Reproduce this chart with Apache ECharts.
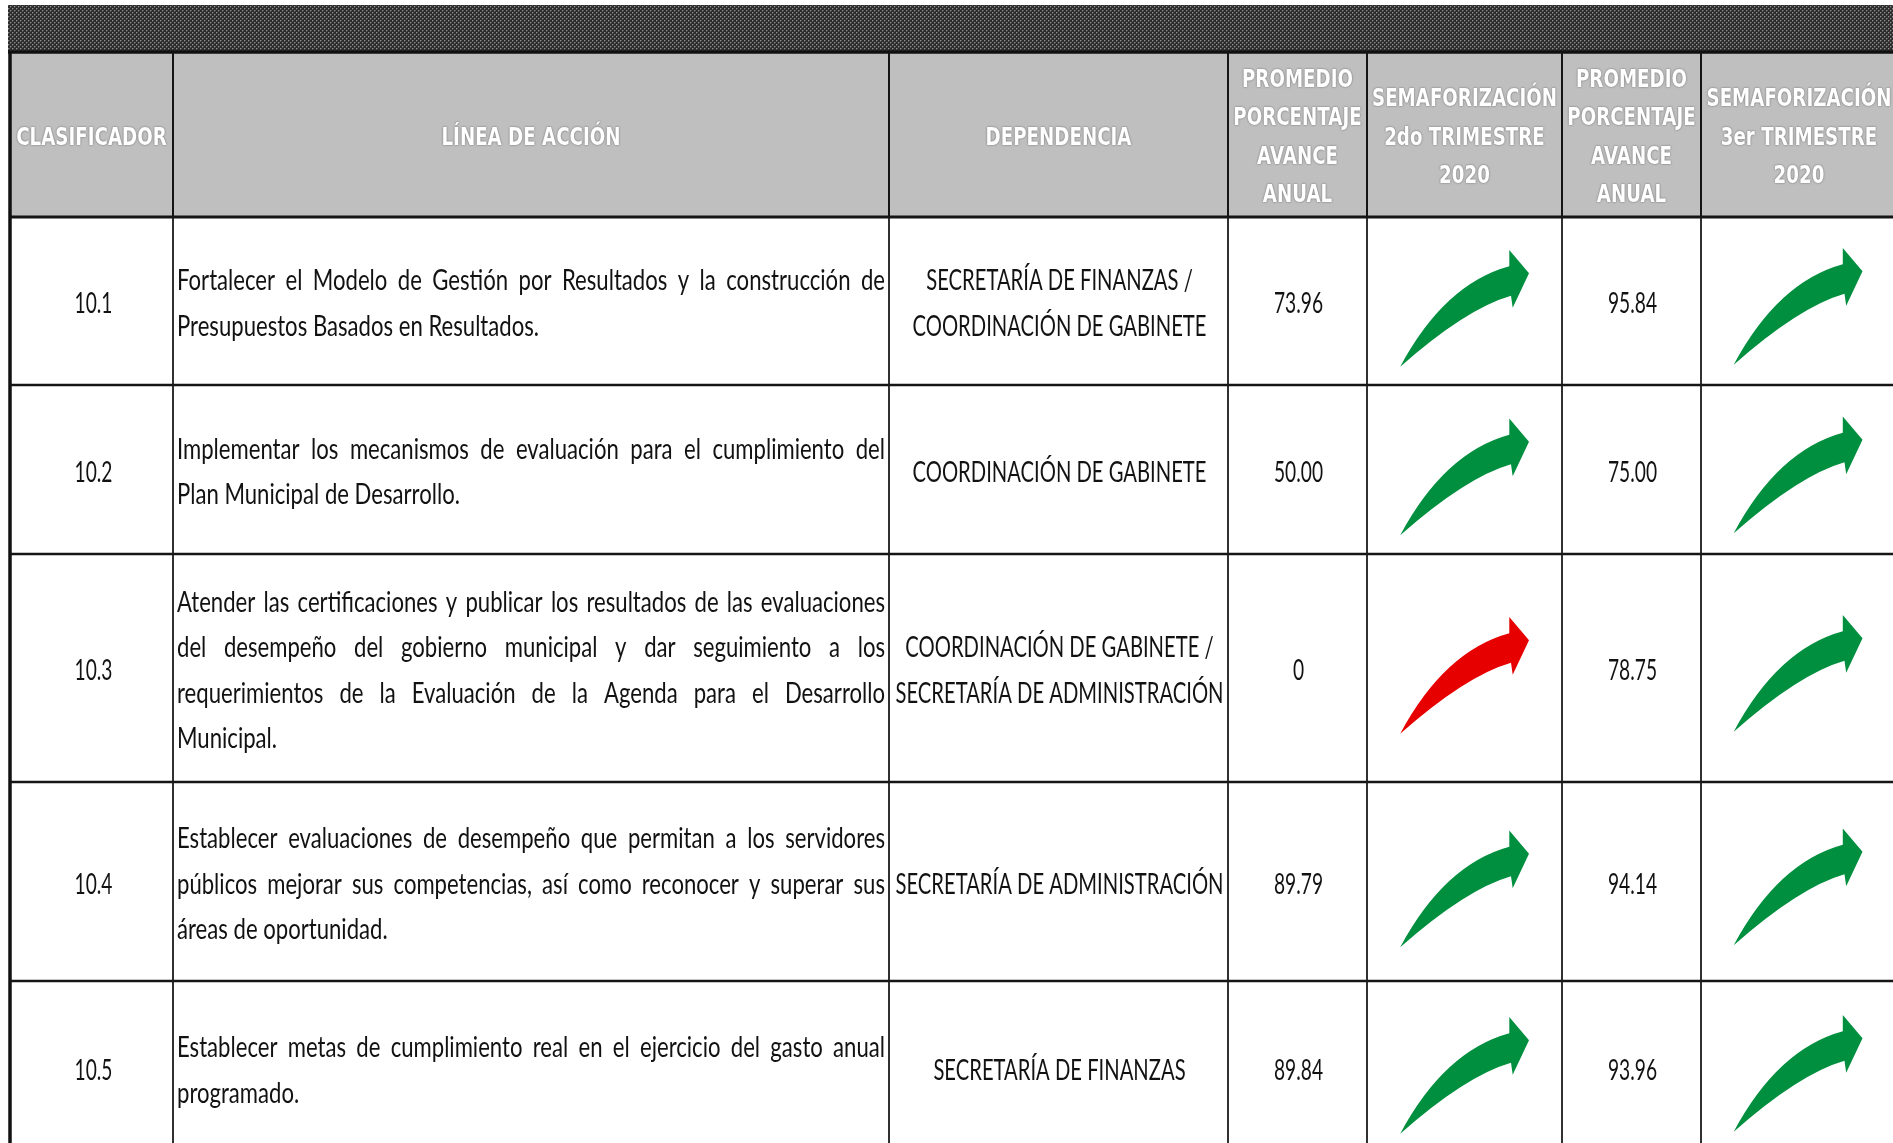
<!DOCTYPE html>
<html><head><meta charset="utf-8">
<script src="https://cdn.jsdelivr.net/npm/echarts@6/dist/echarts.min.js"></script>
<style>html,body{margin:0;padding:0;background:#fff;overflow:hidden}#c{width:1893px;height:1143px}</style>
</head><body><div id="c"></div>
<script>
// ---------- DATA ----------
const encabezados = [
  ['CLASIFICADOR'],
  ['LÍNEA DE ACCIÓN'],
  ['DEPENDENCIA'],
  ['PROMEDIO', 'PORCENTAJE', 'AVANCE', 'ANUAL'],
  ['SEMAFORIZACIÓN', '2do TRIMESTRE', '2020'],
  ['PROMEDIO', 'PORCENTAJE', 'AVANCE', 'ANUAL'],
  ['SEMAFORIZACIÓN', '3er TRIMESTRE', '2020']
];
const clasificador = ['10.1', '10.2', '10.3', '10.4', '10.5'];
const lineaAccion = [
  ['Fortalecer el Modelo de Gestión por Resultados y la construcción de', 'Presupuestos Basados en Resultados.'],
  ['Implementar los mecanismos de evaluación para el cumplimiento del', 'Plan Municipal de Desarrollo.'],
  ['Atender las certificaciones y publicar los resultados de las evaluaciones', 'del desempeño del gobierno municipal y dar seguimiento a los', 'requerimientos de la Evaluación de la Agenda para el Desarrollo', 'Municipal.'],
  ['Establecer evaluaciones de desempeño que permitan a los servidores', 'públicos mejorar sus competencias, así como reconocer y superar sus', 'áreas de oportunidad.'],
  ['Establecer metas de cumplimiento real en el ejercicio del gasto anual', 'programado.']
];
const dependencia = [
  ['SECRETARÍA DE FINANZAS /', 'COORDINACIÓN DE GABINETE'],
  ['COORDINACIÓN DE GABINETE'],
  ['COORDINACIÓN DE GABINETE /', 'SECRETARÍA DE ADMINISTRACIÓN'],
  ['SECRETARÍA DE ADMINISTRACIÓN'],
  ['SECRETARÍA DE FINANZAS']
];
const promedio2doTrim = [73.96, 50.00, 0, 89.79, 89.84];
const semaforo2doTrim = ['verde', 'verde', 'rojo', 'verde', 'verde'];
const promedio3erTrim = [95.84, 75.00, 78.75, 94.14, 93.96];
const semaforo3erTrim = ['verde', 'verde', 'verde', 'verde', 'verde'];

// ---------- LAYOUT / STYLE ----------
const W = 1893, H = 1143;
const colX = [10, 173, 889, 1228, 1367, 1562, 1701, 1897];
const bandTop = 5, headTop = 52, headBottom = 217;
const rowBottoms = [385, 554, 782, 981, 1155];
const lineH = 45.5;
const BODY_FONT = 'Lato';
const HEAD_FONT = 'DejaVu Sans';
const bodySize = 28;
const headSize = 24;
const textColor = '#121212';
const semColors = { verde: '#008f3e', rojo: '#e60000' };
const arrowPath = 'M -64.3 62.7 Q -20 -20 44.8 -37.7 L 44.8 -54 L 64.5 -30.8 L 48.2 3.8 L 46.5 -8.3 Q 1.5 4.6 -64.3 62.7 Z';

function measure(t, size, family, weight) {
  const el = new echarts.graphic.Text({ style: { text: t, fontSize: size, fontFamily: family, fontWeight: weight || 'normal' } });
  return el.getBoundingRect().width;
}
// horizontal compression so the type matches the narrow look of the original
const bodyScale = 362 / measure('Presupuestos Basados en Resultados.', bodySize, BODY_FONT);
const depScale = 328 / measure('SECRETARÍA DE ADMINISTRACIÓN', bodySize, BODY_FONT);
const numScale = 49 / measure('73.96', bodySize, BODY_FONT);
const headScale = 185 / measure('SEMAFORIZACIÓN', headSize, HEAD_FONT, 'bold');

function fmt(v) { return v === 0 ? '0' : v.toFixed(2); }

// hatched band pattern
const pat = document.createElement('canvas');
pat.width = 4; pat.height = 4;
(function () {
  const c = pat.getContext('2d');
  c.fillStyle = '#2c2c2c'; c.fillRect(0, 0, 4, 4);
  c.fillStyle = '#8e8e8e';
  c.fillRect(0, 0, 1, 1); c.fillRect(2, 2, 1, 1);
  c.fillStyle = '#555555';
  c.fillRect(1, 0, 1, 1); c.fillRect(0, 1, 1, 1); c.fillRect(3, 2, 1, 1); c.fillRect(2, 3, 1, 1);
})();

// ---------- HEADER (graphic) ----------
const graphic = [];
graphic.push({ type: 'rect', shape: { x: 8, y: bandTop, width: W, height: headTop - bandTop }, style: { fill: { image: pat, repeat: 'repeat' } }, silent: true });
graphic.push({ type: 'rect', shape: { x: colX[0], y: headTop, width: W, height: headBottom - headTop }, style: { fill: '#bfbfbf' }, silent: true });
encabezados.forEach((lines, c) => {
  const cx = (colX[c] + colX[c + 1]) / 2;
  const cy = (headTop + headBottom) / 2 + 4;
  const lh = 38.5;
  lines.forEach((t, i) => {
    graphic.push({
      type: 'text', x: cx, y: cy + (i - (lines.length - 1) / 2) * lh, scaleX: headScale, silent: true,
      style: { text: t, fontFamily: HEAD_FONT, fontSize: headSize, fontWeight: 'bold', fill: '#ffffff', align: 'center', verticalAlign: 'middle',
        textShadowColor: 'rgba(80,80,80,0.85)', textShadowBlur: 2 }
    });
  });
});
graphic.push({ type: 'line', shape: { x1: 8, y1: headTop, x2: W, y2: headTop }, style: { stroke: '#111', lineWidth: 3.5 }, silent: true });
graphic.push({ type: 'line', shape: { x1: colX[0], y1: headBottom, x2: W, y2: headBottom }, style: { stroke: '#151515', lineWidth: 3 }, silent: true });
for (let c = 1; c < colX.length; c++) {
  graphic.push({ type: 'line', shape: { x1: colX[c], y1: headTop, x2: colX[c], y2: headBottom }, style: { stroke: '#151515', lineWidth: 2 }, silent: true });
}
graphic.push({ type: 'line', shape: { x1: colX[0], y1: headTop, x2: colX[0], y2: H + 20 }, style: { stroke: '#111', lineWidth: 3.5 }, silent: true });

// ---------- ROWS (custom series over value axes) ----------
const rowData = clasificador.map((c, i) => [i, i === 0 ? headBottom : rowBottoms[i - 1], rowBottoms[i]]);

function textEl(t, x, y, align, sc) {
  return { type: 'text', x: x, y: y, scaleX: sc || bodyScale,
    style: { text: t, fontFamily: BODY_FONT, fontSize: bodySize, fill: textColor, align: align, verticalAlign: 'middle' } };
}

function renderRow(params, api) {
  const i = api.value(0);
  const top = api.coord([0, api.value(1)])[1];
  const bot = api.coord([0, api.value(2)])[1];
  const cy = (top + bot) / 2;
  const ty = cy + 3;
  const X = colX.map(x => api.coord([x, 0])[0]);
  const ch = [];
  ch.push({ type: 'line', shape: { x1: X[0], y1: bot, x2: W, y2: bot }, style: { stroke: '#151515', lineWidth: 2.5 } });
  for (let c = 1; c < X.length; c++) {
    ch.push({ type: 'line', shape: { x1: X[c], y1: top, x2: X[c], y2: bot }, style: { stroke: '#1a1a1a', lineWidth: 1.8 } });
  }
  ch.push(textEl(clasificador[i], (X[0] + X[1]) / 2 + 2, ty, 'center', numScale));
  // linea de accion (justified)
  const lines = lineaAccion[i];
  const lx0 = X[1] + 4, lx1 = X[2] - 4;
  lines.forEach((ln, k) => {
    const y = ty + (k - (lines.length - 1) / 2) * lineH;
    if (k === lines.length - 1) {
      ch.push(textEl(ln, lx0, y, 'left'));
    } else {
      const words = ln.split(' ');
      const ws = words.map(w => measure(w, bodySize, BODY_FONT) * bodyScale);
      const tot = ws.reduce((a, b) => a + b, 0);
      const gap = (lx1 - lx0 - tot) / (words.length - 1);
      let x = lx0;
      words.forEach((w, j) => { ch.push(textEl(w, x, y, 'left')); x += ws[j] + gap; });
    }
  });
  const dl = dependencia[i];
  dl.forEach((t, k) => ch.push(textEl(t, (X[2] + X[3]) / 2 + 1, ty + (k - (dl.length - 1) / 2) * lineH, 'center', depScale)));
  ch.push(textEl(fmt(promedio2doTrim[i]), (X[3] + X[4]) / 2 + 1, ty, 'center', numScale));
  ch.push(textEl(fmt(promedio3erTrim[i]), (X[5] + X[6]) / 2 + 1, ty, 'center', numScale));
  ch.push({ type: 'path', x: (X[4] + X[5]) / 2, y: cy + 3, shape: { pathData: arrowPath }, style: { fill: semColors[semaforo2doTrim[i]] } });
  ch.push({ type: 'path', x: (X[6] + X[7]) / 2 - 1, y: cy + 1, shape: { pathData: arrowPath }, style: { fill: semColors[semaforo3erTrim[i]] } });
  return { type: 'group', children: ch };
}

const chart = echarts.init(document.getElementById('c'), null, { renderer: 'canvas' });
chart.setOption({
  animation: false,
  backgroundColor: '#ffffff',
  grid: { left: 0, right: 0, top: 0, bottom: 0 },
  xAxis: { type: 'value', min: 0, max: W, show: false },
  yAxis: { type: 'value', min: 0, max: H, inverse: true, show: false },
  graphic: graphic,
  series: [{
    type: 'custom',
    renderItem: renderRow,
    data: rowData,
    silent: true,
    clip: false
  }]
});
</script>
</body></html>
